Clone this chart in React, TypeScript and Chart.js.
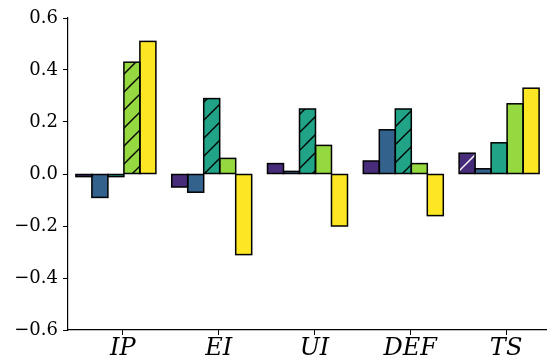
import React, { useEffect, useRef } from 'react';
import { Chart, registerables } from 'chart.js';

Chart.register(...registerables);

const categories = ['IP', 'EI', 'UI', 'DEF', 'TS'];
const categoryPositions = [0, 1, 2, 3, 4];
const yTickValues = [-0.6, -0.4, -0.2, 0.0, 0.2, 0.4, 0.6];

const seriesNames = ['Series 1', 'Series 2', 'Series 3', 'Series 4', 'Series 5'];
const seriesColors = ['#472c7a', '#33638d', '#20a386', '#95d840', '#fde725'];
const hatchColors = ['#ffffff', '#000000', '#000000', '#000000', '#000000'];

const purpleValues = [-0.01, -0.05, 0.04, 0.05, 0.08];
const blueValues = [-0.09, -0.07, 0.01, 0.17, 0.02];
const tealValues = [-0.01, 0.29, 0.25, 0.25, 0.12];
const greenValues = [0.43, 0.06, 0.11, 0.04, 0.27];
const yellowValues = [0.51, -0.31, -0.2, -0.16, 0.33];

const purpleHatched = [false, false, false, false, true];
const blueHatched = [false, false, false, false, false];
const tealHatched = [false, true, true, true, false];
const greenHatched = [true, false, false, false, false];
const yellowHatched = [false, false, false, false, false];

const allValues = [purpleValues, blueValues, tealValues, greenValues, yellowValues];
const allHatched = [purpleHatched, blueHatched, tealHatched, greenHatched, yellowHatched];

function makeHatch(fill: string, line: string): CanvasPattern | string {
  const s = 18;
  const c = document.createElement('canvas');
  c.width = s;
  c.height = s;
  const g = c.getContext('2d');
  if (!g) return fill;
  g.fillStyle = fill;
  g.fillRect(0, 0, s, s);
  g.strokeStyle = line;
  g.lineWidth = 1.4;
  g.beginPath();
  g.moveTo(0, s);
  g.lineTo(s, 0);
  g.moveTo(-3, 3);
  g.lineTo(3, -3);
  g.moveTo(s - 3, s + 3);
  g.lineTo(s + 3, s - 3);
  g.stroke();
  const p = g.createPattern(c, 'repeat');
  return p || fill;
}

const edgePlugin = {
  id: 'barEdges',
  afterDatasetsDraw(chart: any) {
    const ctx = chart.ctx;
    ctx.save();
    ctx.strokeStyle = '#000000';
    ctx.lineWidth = 1.5;
    chart.data.datasets.forEach((_ds: any, i: number) => {
      const meta = chart.getDatasetMeta(i);
      meta.data.forEach((bar: any) => {
        const { x, y, base, width } = bar.getProps(['x', 'y', 'base', 'width'], true);
        ctx.strokeRect(x - width / 2, Math.min(y, base), width, Math.abs(base - y));
      });
    });
    ctx.restore();
  },
};

export default function App() {
  const canvasRef = useRef<HTMLCanvasElement | null>(null);

  useEffect(() => {
    const canvas = canvasRef.current;
    if (!canvas) return;

    const datasets = allValues.map((vals, si) => ({
      label: seriesNames[si],
      data: vals,
      xAxisID: 'x',
      yAxisID: 'y',
      backgroundColor: vals.map((_v, i) =>
        allHatched[si][i] ? makeHatch(seriesColors[si], hatchColors[si]) : seriesColors[si]
      ),
      borderWidth: 0,
      categoryPercentage: 0.835,
      barPercentage: 1.0,
    }));

    const chart = new Chart(canvas, {
      type: 'bar',
      data: { labels: categories, datasets: datasets as any },
      options: {
        responsive: false,
        animation: false,
        layout: { padding: { top: 18, right: 0, left: 0, bottom: 0 } },
        plugins: { legend: { display: false }, tooltip: { enabled: false } },
        scales: {
          x: {
            type: 'category',
            display: false,
          },
          x2: {
            type: 'linear',
            position: 'bottom',
            min: -0.5,
            max: 4.5,
            offset: false,
            afterBuildTicks: (scale: any) => {
              scale.ticks = categoryPositions.map((v) => ({ value: v + 0.073 }));
            },
            afterFit: (scale: any) => {
              scale.height = 28;
            },
            grid: { offset: false, drawOnChartArea: false, drawTicks: true, tickLength: 5, color: '#000000', lineWidth: 1 },
            border: { display: true, color: '#000000', width: 1.2 },
            ticks: {
              autoSkip: false,
              maxRotation: 0,
              padding: -1,
              color: '#000000',
              font: { family: 'DejaVu Serif', size: 24, style: 'italic' },
              callback: (_v: any, idx: number) => categories[idx],
            },
          },
          y: {
            type: 'linear',
            min: -0.6,
            max: 0.6,
            afterBuildTicks: (scale: any) => {
              scale.ticks = yTickValues.map((v) => ({ value: v }));
            },
            afterFit: (scale: any) => {
              scale.width = 68;
            },
            grid: { drawOnChartArea: false, drawTicks: true, tickLength: 5, color: '#000000', lineWidth: 1 },
            border: { display: true, color: '#000000', width: 1.2 },
            ticks: {
              padding: 5,
              color: '#000000',
              font: { family: 'DejaVu Serif', size: 18 },
              callback: (v: any) => {
                const n = Number(v);
                if (Math.abs(n) < 1e-9) return '0.0';
                return (n < 0 ? '\u2212' : '') + Math.abs(n).toFixed(1);
              },
            },
          },
        },
      },
      plugins: [edgePlugin],
    });

    return () => chart.destroy();
  }, []);

  return (
    <div style={{ position: 'fixed', left: 0, top: 0, width: 547, height: 358, background: '#ffffff', overflow: 'hidden' }}>
      <canvas ref={canvasRef} width={547} height={358} style={{ display: 'block' }} />
    </div>
  );
}
